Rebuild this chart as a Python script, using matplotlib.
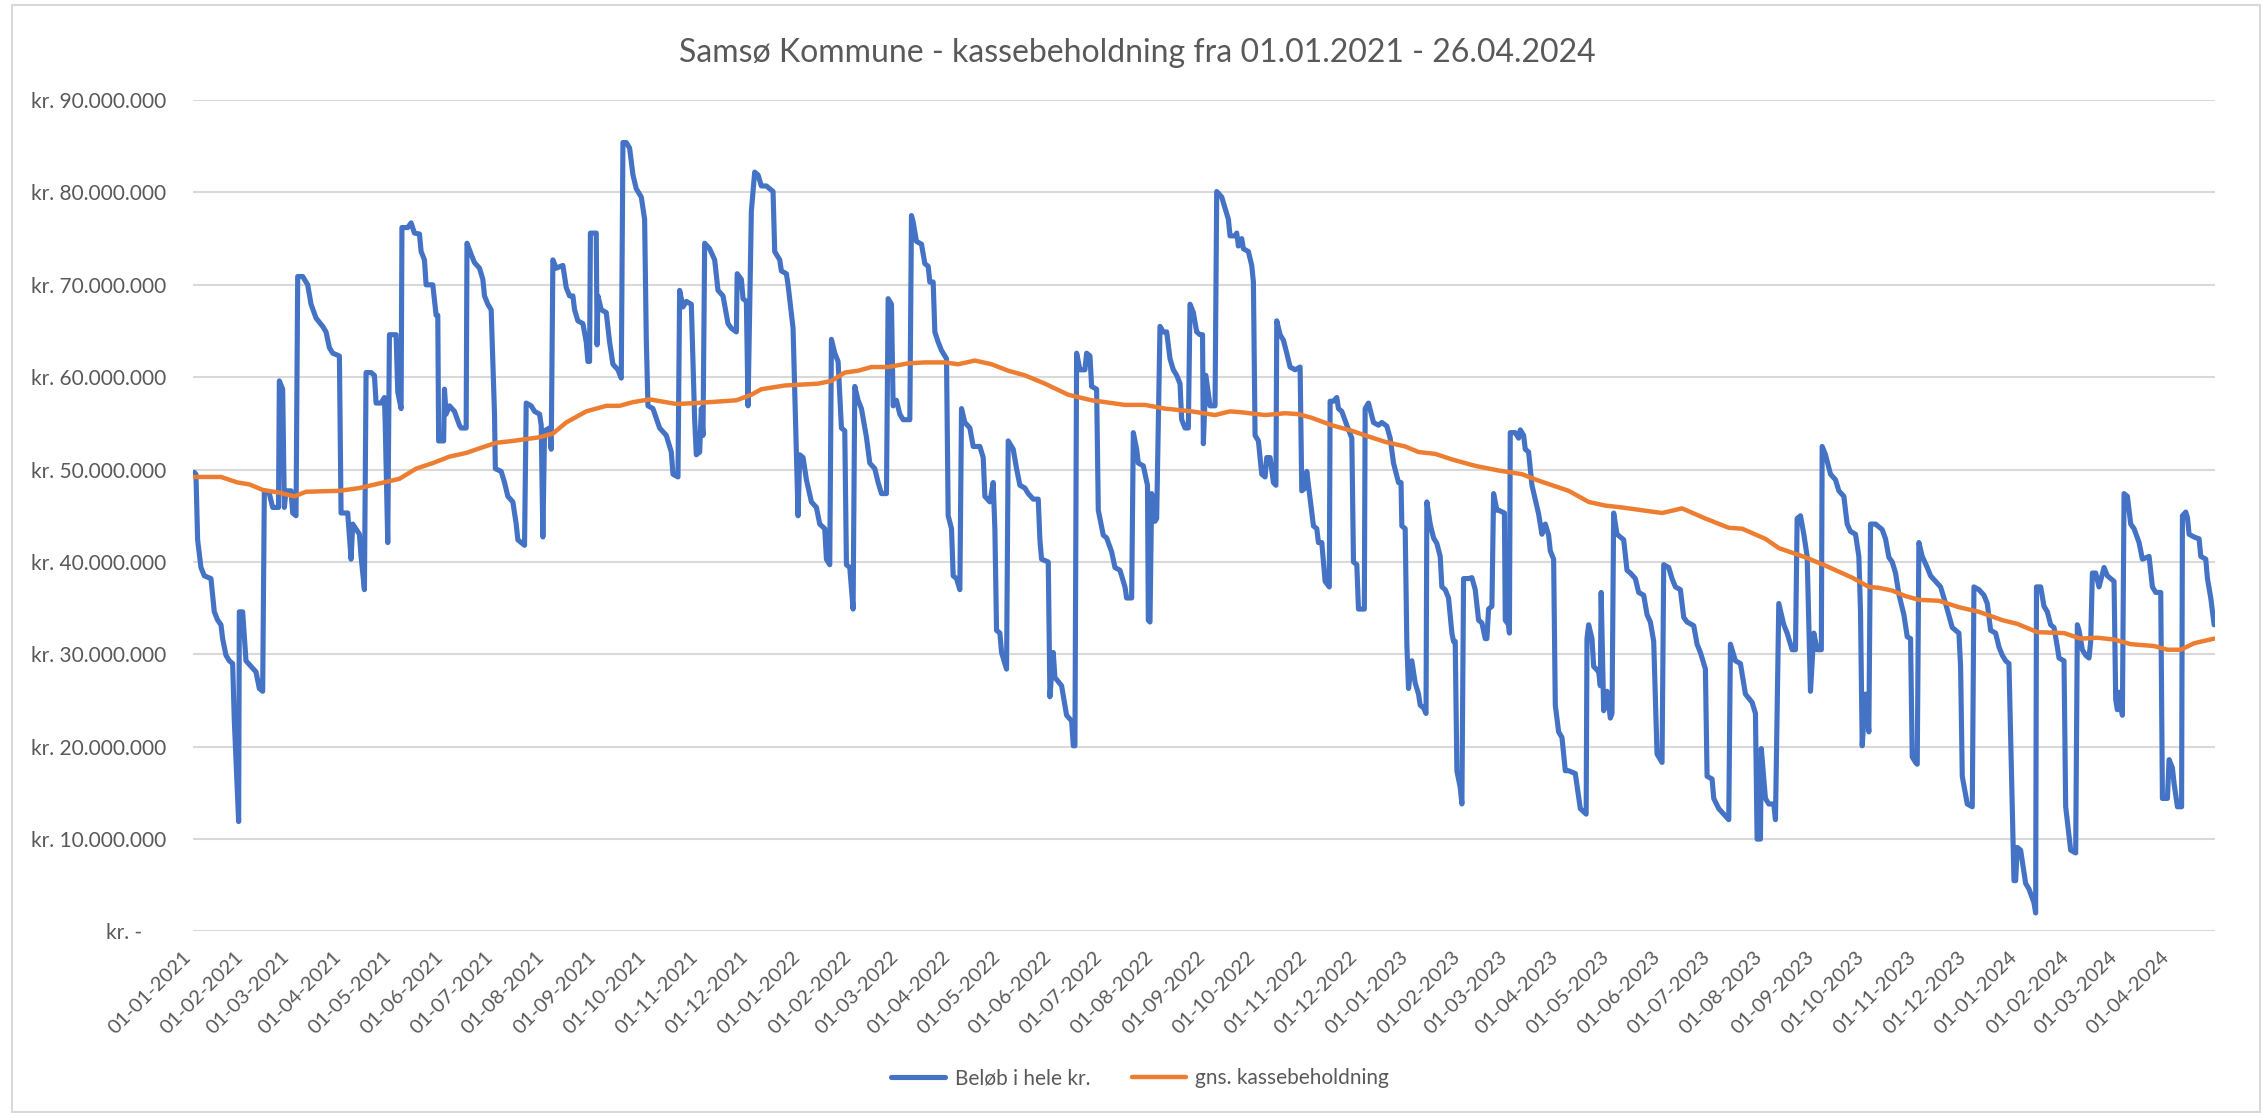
import numpy as np
import pandas as pd
import matplotlib
matplotlib.use('Agg')
import matplotlib.pyplot as plt
import matplotlib.dates as mdates
from matplotlib.ticker import FuncFormatter, MultipleLocator
from matplotlib.patches import Rectangle

plt.rcParams['font.family'] = ['Lato', 'DejaVu Sans']

start = pd.Timestamp('2021-01-01')

# blue series: days after 01-01-2021 and amount in mio. kr.
belob_days = [0, 1, 2, 4, 6, 10, 12, 14, 16, 17, 19, 21, 23, 24, 26.6, 27, 29, 31, 34, 37, 39, 41, 42, 45, 47, 50.5, 51, 53, 54, 55, 58, 59, 61, 62, 65, 68, 70, 73, 77, 79, 81, 83, 87, 88, 92, 94, 95, 99, 100, 102, 103, 106, 108, 109, 112, 114, 114.5, 116, 117, 121, 122, 124, 124.5, 128, 130, 132, 135, 136, 138, 139, 143, 145, 146, 146.5, 149.5, 150, 151, 153, 156, 159, 160, 163, 163.5, 166, 168, 171, 173, 174, 176, 178, 180, 180.5, 184, 186, 188, 191, 193, 194, 198, 199,
              202, 204, 207, 208, 209, 210, 213, 214, 215, 217, 221, 223, 225, 227, 228, 230, 233, 235, 236, 237, 237.5, 241, 241.5, 242, 244, 247, 249, 251, 254, 256, 257, 259, 261, 263, 265, 268, 270, 271, 272, 275, 279, 283, 286, 287, 290, 291, 293, 295, 298, 300, 301, 303, 304, 305, 306, 309, 312, 314, 317, 320, 322, 325, 325.5, 328, 329, 331, 332, 334, 336, 338, 340, 343, 347, 348, 351, 352, 355, 356, 359, 362, 363, 365, 367, 370, 373, 375, 378, 379, 381, 382, 384, 386, 388, 390, 391, 393, 395, 396,
              398, 400, 403, 405, 408, 410, 412, 415, 416, 418, 419, 421, 423, 425, 429, 430, 431, 433, 436, 438, 440, 441, 443, 444, 446, 448, 451, 452, 454, 455, 457, 459, 460, 462, 465, 467, 471, 473, 474, 477, 479, 480, 481, 483, 484, 487, 488, 491, 493, 495, 498, 500, 503, 506, 507, 508, 512, 513, 515, 516, 520, 523, 526, 527, 528, 529, 531, 534, 535, 537, 538, 541, 542, 545, 547, 550, 552, 555, 558, 559, 562, 563, 565, 566, 569, 571.5, 572, 573, 574, 576, 577, 579, 581, 583, 585, 587, 589, 591, 592, 594, 596, 597, 599, 601, 603,
              604.5, 605, 606.5, 609, 612, 613, 616, 618, 620, 621, 624, 625, 626, 628, 629, 632, 634, 635, 636, 638, 640, 642, 643, 645, 647, 648.5, 649, 651, 653, 655, 657, 660, 663, 664, 666, 667, 669, 671, 673, 674, 676, 678, 680.5, 681, 683, 685, 686, 688, 691, 694, 695, 697, 698, 701.5, 702, 704, 707, 710, 712, 715, 717, 719, 722, 723.5, 724, 726, 727, 728, 730, 732, 734, 735, 737, 738.5, 739, 741, 743, 745, 747, 748, 750, 752, 754, 755, 756, 757, 759, 760, 761, 764, 766, 768, 770, 772, 774, 775, 776, 778, 779, 781, 782, 785.5, 786, 788, 788.5, 789, 792, 794, 795, 797, 798, 800, 802,
              806, 808, 810, 812, 813, 815, 816, 818, 820, 822, 824, 828, 831, 834.5, 835, 836, 838, 839, 842, 843, 843.5, 845, 847, 849, 850, 851, 853, 857, 859, 861, 864, 866, 869, 871, 873, 875, 877, 880, 881, 884, 886, 888, 891, 893, 895, 899, 901, 903, 906, 907, 910, 911, 914, 917, 920, 921, 924, 927, 930, 934, 936, 937, 939, 939.5, 942, 944, 947, 948, 950, 953, 955, 958, 960, 961, 963, 965, 967, 969, 971, 973, 975.5, 976, 978, 981, 984, 986, 989, 991, 993, 996, 998, 999, 1000, 1002, 1004, 1005, 1008,
              1012, 1014, 1016, 1018, 1020, 1022, 1025, 1027, 1029, 1030, 1032, 1033, 1034, 1036, 1039, 1041, 1044, 1047, 1050, 1054, 1058, 1059, 1060, 1063, 1066, 1067, 1070, 1073, 1075, 1077, 1080, 1082, 1084, 1086, 1088, 1091, 1092, 1093, 1095, 1098, 1100, 1103, 1104, 1104.5, 1107, 1109, 1111, 1113, 1115, 1117, 1118, 1121, 1122, 1125, 1128, 1129, 1130, 1132, 1134, 1136, 1137, 1138, 1140, 1142, 1145, 1147, 1151, 1152, 1153, 1154, 1156, 1157, 1159, 1161, 1163, 1166, 1168, 1172, 1174, 1176, 1179, 1179.5, 1180, 1183, 1184, 1186, 1187, 1189, 1191.5, 1192, 1194, 1195, 1196, 1199, 1202, 1203, 1206, 1207, 1209, 1211]
belob_mio = [49.7, 49.5, 42.4, 39.4, 38.5, 38.2, 34.6, 33.7, 33.2, 31.7, 29.9, 29.3, 29.0, 22.8, 11.9, 34.6, 34.6, 29.3, 28.7, 28.1, 26.3, 26.0, 47.7, 47.4, 45.9, 45.9, 59.6, 58.7, 45.9, 47.7, 47.7, 45.3, 45.0, 70.9, 70.9, 70.0, 67.9, 66.4, 65.5, 64.9, 63.2, 62.6, 62.3, 45.3, 45.3, 40.3, 44.1, 43.0, 40.6, 37.0, 60.5, 60.5, 60.2, 57.2, 57.2, 57.8, 54.8, 42.1, 64.6, 64.6, 58.4, 56.6, 76.2, 76.2, 76.7, 75.6, 75.5, 73.6, 72.7, 70.0, 70.0, 66.7, 66.7, 53.1, 53.1, 58.7, 56.0, 56.9, 56.3, 54.8, 54.5, 54.5, 74.5, 73.3, 72.4, 71.8, 70.6, 68.8, 67.9, 67.3, 56.0, 50.1, 49.8, 48.6, 47.1, 46.5, 44.1, 42.4, 41.8, 57.2,
             56.9, 56.3, 56.0, 54.8, 42.7, 54.2, 54.5, 52.2, 72.7, 71.8, 72.1, 69.7, 68.8, 68.8, 67.3, 66.1, 65.8, 63.8, 61.7, 61.7, 75.6, 75.6, 63.5, 68.8, 67.3, 67.0, 63.8, 61.4, 60.8, 59.9, 85.4, 85.4, 84.8, 81.9, 80.4, 79.5, 77.1, 64.1, 56.9, 56.6, 54.5, 53.7, 51.9, 49.5, 49.2, 69.4, 67.6, 68.2, 67.9, 55.4, 51.6, 51.9, 56.6, 53.7, 74.5, 73.9, 72.7, 69.4, 68.8, 65.8, 65.3, 64.9, 71.2, 70.6, 68.5, 68.2, 56.9, 78.0, 82.2, 81.9, 80.7, 80.7, 80.1, 73.6, 72.7, 71.5, 71.2, 70.0, 65.3, 45.0, 51.6, 51.3, 48.9, 46.5, 45.9, 44.1, 43.6, 40.3, 39.7, 64.1, 62.6, 61.7, 54.5, 54.2, 39.7, 39.4, 34.9, 59.0,
             57.5, 56.6, 53.5, 50.7, 50.1, 48.6, 47.4, 47.4, 68.5, 67.9, 56.9, 57.5, 56.0, 55.4, 55.4, 77.5, 76.8, 74.7, 74.4, 72.3, 72.0, 70.3, 70.3, 64.9, 63.8, 62.9, 62.0, 45.0, 43.6, 38.5, 38.2, 37.0, 56.6, 55.1, 54.5, 52.5, 52.5, 51.3, 47.1, 46.5, 48.6, 43.6, 32.6, 32.3, 30.2, 28.4, 53.1, 52.2, 50.1, 48.3, 48.0, 47.4, 46.8, 46.8, 42.4, 40.3, 40.0, 25.4, 30.2, 27.5, 26.6, 23.4, 22.8, 20.1, 20.1, 62.6, 60.8, 60.8, 62.6, 62.3, 59.0, 58.7, 45.6, 42.9, 42.6, 41.1, 39.4, 39.1, 37.3, 36.1, 36.1, 54.0, 52.2, 50.7, 50.4, 48.3, 33.7, 33.5, 47.4, 44.4, 44.7, 65.5, 64.9, 64.9, 62.0, 60.8, 60.2, 59.3, 55.4, 54.5, 54.5, 67.9, 67.0, 64.9, 64.6,
             64.6, 52.8, 60.2, 56.9, 56.9, 80.1, 79.5, 78.3, 77.1, 75.3, 75.3, 75.6, 74.2, 75.0, 73.9, 73.6, 72.1, 70.3, 53.7, 53.1, 49.5, 49.2, 51.3, 51.3, 48.6, 48.3, 66.1, 64.6, 64.0, 62.6, 61.1, 60.8, 61.1, 47.7, 48.0, 49.8, 46.8, 43.9, 43.6, 42.1, 42.1, 37.9, 37.3, 57.4, 57.4, 57.8, 56.6, 56.3, 54.8, 53.4, 40.0, 39.7, 34.9, 34.9, 56.6, 57.2, 55.1, 54.8, 55.1, 54.7, 53.4, 50.7, 48.6, 48.6, 43.9, 43.6, 31.1, 26.3, 29.3, 26.9, 25.7, 24.5, 24.2, 23.6, 46.5, 44.1, 42.6, 42.0, 40.6, 37.3, 37.0, 36.1, 32.3, 31.4, 31.4, 17.4, 15.6, 13.8, 38.2, 38.2, 38.3, 37.0, 33.7, 33.4, 31.7, 31.7, 34.9, 35.2, 47.4, 45.6, 45.6, 45.3, 33.7, 33.2, 32.3, 54.0, 54.0, 53.4, 54.3, 53.7, 52.2, 51.9, 48.3,
             45.2, 43.0, 44.1, 42.9, 41.2, 40.3, 24.5, 21.6, 21.0, 17.4, 17.4, 17.1, 13.3, 12.7, 31.7, 33.2, 31.7, 28.7, 28.1, 26.6, 36.7, 23.9, 26.0, 23.1, 23.6, 45.3, 43.0, 42.4, 39.1, 38.8, 38.2, 36.7, 36.4, 34.3, 33.5, 31.4, 19.2, 18.3, 39.7, 39.4, 38.2, 37.3, 37.0, 34.0, 33.5, 33.1, 31.1, 30.2, 28.4, 16.8, 16.5, 14.4, 13.3, 12.7, 12.1, 31.1, 29.3, 29.0, 25.7, 24.8, 23.6, 10.0, 10.0, 19.8, 14.4, 13.8, 13.8, 12.1, 35.5, 33.2, 32.3, 30.5, 30.5, 44.7, 45.0, 43.0, 40.6, 26.0, 32.3, 30.5, 30.5, 52.5, 51.6, 49.5, 48.9, 47.7, 47.1, 44.1, 43.3, 43.0, 40.6, 34.6, 20.1, 25.7, 21.6, 44.1, 44.1,
             43.5, 42.5, 40.5, 40.0, 38.8, 36.5, 34.3, 31.9, 31.7, 18.9, 18.3, 18.1, 42.1, 40.6, 39.4, 38.5, 37.9, 37.3, 35.5, 32.9, 32.3, 28.7, 16.8, 13.8, 13.5, 37.3, 37.0, 36.4, 35.5, 32.6, 32.3, 30.8, 29.9, 29.3, 29.0, 5.5, 5.5, 9.1, 8.8, 5.2, 4.6, 3.1, 2.0, 37.3, 37.3, 35.2, 34.6, 33.2, 32.9, 30.8, 29.6, 29.3, 13.5, 8.8, 8.5, 33.2, 32.6, 30.5, 29.9, 29.6, 31.4, 38.8, 38.8, 37.3, 39.4, 38.5, 37.9, 25.1, 24.0, 25.9, 23.4, 47.4, 47.1, 44.1, 43.6, 42.1, 40.3, 40.6, 37.3, 36.7, 36.7, 26.0, 14.4, 14.4, 18.6, 17.7, 16.0, 13.5, 13.5, 45.0, 45.4, 44.8, 43.0, 42.7, 42.5, 40.6, 40.3, 38.2, 36.1, 33.2]

# orange series: average cash balance
gns_days = [0, 16, 26, 33, 41, 51, 60, 67, 87, 99, 111, 123, 133, 143, 153, 163, 171, 181, 191, 207, 215, 223, 235, 247, 255, 263, 273, 289, 301, 325, 334, 340, 354, 374, 382, 390, 398, 406, 416, 428, 438, 450, 458, 468, 478, 488, 498, 510, 524, 538, 558, 570, 582, 598, 612, 621, 628, 642, 654, 662, 670, 682, 694, 702, 714, 726, 734, 744, 754, 768, 782, 796, 806, 824, 836, 846, 856, 880, 892, 906, 920, 928, 942, 950, 966, 978, 994, 1004, 1010, 1018, 1026, 1034, 1046, 1058, 1070, 1084, 1093, 1105, 1121, 1131, 1141, 1151, 1161, 1175, 1183, 1191, 1199, 1211]
gns_mio = [49.2, 49.2, 48.6, 48.4, 47.8, 47.5, 47.1, 47.6, 47.7, 48.0, 48.5, 49.0, 50.1, 50.7, 51.4, 51.8, 52.3, 52.9, 53.1, 53.5, 53.9, 55.1, 56.3, 56.9, 56.9, 57.3, 57.6, 57.1, 57.2, 57.5, 58.1, 58.7, 59.1, 59.3, 59.6, 60.5, 60.7, 61.1, 61.1, 61.5, 61.6, 61.6, 61.4, 61.8, 61.4, 60.7, 60.2, 59.3, 58.1, 57.5, 57.0, 57.0, 56.6, 56.3, 55.9, 56.3, 56.2, 55.9, 56.1, 56.0, 55.6, 54.8, 54.2, 53.7, 53.0, 52.5, 51.9, 51.7, 51.1, 50.4, 49.9, 49.5, 48.8, 47.7, 46.5, 46.1, 45.9, 45.3, 45.8, 44.7, 43.7, 43.6, 42.5, 41.5, 40.5, 39.6, 38.3, 37.3, 37.2, 36.9, 36.3, 35.9, 35.8, 35.1, 34.6, 33.7, 33.3, 32.4, 32.3, 31.7, 31.8, 31.6, 31.1, 30.9, 30.5, 30.5, 31.2, 31.7]

title = 'Samsø Kommune - kassebeholdning fra 01.01.2021 - 26.04.2024'
labels = ['Beløb i hele kr.', 'gns. kassebeholdning']

belob_dates = start + pd.to_timedelta(belob_days, unit='D')
gns_dates = start + pd.to_timedelta(gns_days, unit='D')
belob = np.array(belob_mio) * 1e6
gns = np.array(gns_mio) * 1e6

grey = '#595959'
fig = plt.figure(figsize=(22.62, 11.13), dpi=100)
ax = fig.add_axes([0.0853, 0.1631, 0.8939, 0.747])

ax.plot(belob_dates, belob, color='#4472C4', lw=3.7, label=labels[0],
        solid_joinstyle='round', solid_capstyle='round', zorder=3)
ax.plot(gns_dates, gns, color='#ED7D31', lw=3.2, label=labels[1],
        solid_joinstyle='round', solid_capstyle='round', zorder=4)

ax.set_ylim(0, 90e6)
ax.set_xlim(start - pd.Timedelta(days=0.8), start + pd.Timedelta(days=1211.5))
ax.yaxis.set_major_locator(MultipleLocator(10e6))


def kr(v, pos):
    if v == 0:
        return 'kr. -\u2007\u2007'
    return 'kr. ' + f'{int(round(v)):,}'.replace(',', '.')


ax.yaxis.set_major_formatter(FuncFormatter(kr))
ax.xaxis.set_major_locator(mdates.MonthLocator(bymonthday=1))
ax.xaxis.set_major_formatter(mdates.DateFormatter('%d-%m-%Y'))

ax.grid(axis='y', color='#D9D9D9', lw=1.5)
ax.set_axisbelow(True)
for s in ax.spines.values():
    s.set_visible(False)
ax.tick_params(axis='y', length=0, pad=19, labelsize=15, labelcolor=grey)
ax.tick_params(axis='x', length=0, pad=12, labelsize=14.5, labelcolor=grey)
for t in ax.get_xticklabels():
    t.set_rotation(45)
    t.set_ha('right')
    t.set_va('top')

fig.text(0.5027, 0.952, title, ha='center', va='center', fontsize=23, color=grey)
fig.legend(loc='center', bbox_to_anchor=(0.504, 0.0314), ncol=2, frameon=False,
           fontsize=15, labelcolor=grey, handlelength=2.6, handletextpad=0.45,
           columnspacing=2.0)

fig.patches.append(Rectangle((0.0053, 0.001), 0.9938, 0.9945, transform=fig.transFigure,
                             fill=False, edgecolor='#D9D9D9', lw=1.5))

plt.savefig('out.png', dpi=100)
